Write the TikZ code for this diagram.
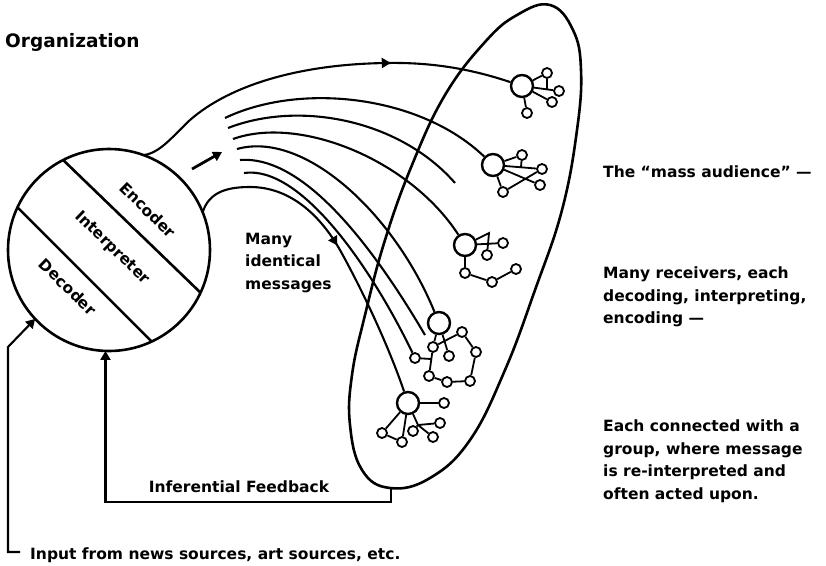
\documentclass[tikz,border=0pt]{standalone}
\usepackage{fontspec}
\setmainfont{DejaVu Sans}
\usetikzlibrary{arrows.meta, decorations.markings}

\tikzset{
  recv/.style={circle, draw, line width=2.4pt, minimum size=22pt, inner sep=0pt},
  memb/.style={circle, draw, line width=1.8pt, minimum size=10pt, inner sep=0pt},
  msg/.style={line width=2.1pt},
  tie/.style={line width=1.8pt},
  lbl/.style={font=\bfseries\fontsize{15.5}{22.5}\selectfont, align=left, inner sep=0pt},
  tip/.style={-{Triangle[length=9pt,width=10pt]}},
  midarrow/.style={postaction={decorate}, decoration={markings,
    mark=at position #1 with {\arrow{Triangle[length=9pt,width=10pt]}}}},
}

\begin{document}
\begin{tikzpicture}[x=1pt, y=-1pt]
\useasboundingbox (0,0) rectangle (826,565);

% the organization
\node[circle, draw, line width=2.6pt, minimum size=202pt, inner sep=0pt, outer sep=0pt] (org) at (109,250) {};
\draw[line width=2.6pt] (org.117) -- (org.-25);
\draw[line width=2.6pt] (org.155) -- (org.295);
\node[lbl, rotate=-44] (enc) at (148,210) {Encoder};
\node[lbl, rotate=-44] (int) at (112,248) {Interpreter};
\node[lbl, rotate=-44] (dec) at (68,287) {Decoder};
\node[anchor=west, inner sep=0pt, font=\bfseries\fontsize{18.5}{22}\selectfont] (title) at (5,42) {Organization};

% the mass audience
\draw[line width=2.6pt] plot[smooth cycle, tension=0.7] coordinates {
  (550,5) (573,30) (581,70) (577,130) (562,210) (535,290) (505,370)
  (470,440) (430,478) (390,488) (362,470) (350,425) (352,375) (365,315)
  (385,240) (412,165) (445,95) (485,42) (517,15)};
\coordinate (massbot) at (391,487);

% receivers and their groups
\node[recv] (r1) at (522,86) {};
\node[memb] (r1a) at (547,73) {};
\node[memb] (r1b) at (559,91) {};
\node[memb] (r1c) at (552,102) {};
\node[memb] (r1d) at (527,113) {};
\coordinate (r1x) at (547,89);
\draw[tie] (r1) -- (r1a) (r1) -- (r1b) (r1) -- (r1c) (r1) -- (r1d) (r1a) -- (r1x);

\node[recv] (r2) at (493,165) {};
\node[memb] (r2a) at (522,155) {};
\node[memb] (r2b) at (542,169) {};
\node[memb] (r2c) at (540,185) {};
\node[memb] (r2d) at (503,192) {};
\coordinate (r2x) at (521,167);
\draw[tie] (r2) -- (r2a) (r2) -- (r2b) (r2) -- (r2c) (r2) -- (r2d) (r2d) -- (r2b) (r2a) -- (r2x);

\node[recv] (r3) at (465,245) {};
\node[memb] (r3a) at (503,243) {};
\node[memb] (r3b) at (487,255) {};
\node[memb] (r3c) at (465,273) {};
\node[memb] (r3d) at (492,282) {};
\node[memb] (r3e) at (516,269) {};
\coordinate (r3t) at (489,233);
\draw[tie] (r3) -- (r3a) (r3) -- (r3t) -- (r3b) (r3) -- (r3c) -- (r3d) -- (r3e);

\node[recv] (r4) at (439,323) {};
\node[memb] (r4a) at (462,332) {};
\node[memb] (r4b) at (476,352) {};
\node[memb] (r4c) at (470,381) {};
\node[memb] (r4d) at (447,382) {};
\node[memb] (r4e) at (429,376) {};
\node[memb] (r4f) at (433,347) {};
\node[memb] (r4g) at (449,356) {};
\node[memb] (r4h) at (415,358) {};
\coordinate (r4x) at (431,359);
\draw[tie] (r4) -- (r4f) (r4f) -- (r4a) (r4) -- (r4g) (r4f) -- (r4e) (r4h) -- (r4x)
  (r4a) -- (r4b) -- (r4c) -- (r4d) -- (r4e);

\node[recv] (r5) at (408,403) {};
\node[memb] (r5a) at (444,403) {};
\node[memb] (r5b) at (440,423) {};
\node[memb] (r5c) at (433,437) {};
\node[memb] (r5d) at (413,431) {};
\node[memb] (r5e) at (402,442) {};
\node[memb] (r5f) at (382,433) {};
\coordinate (r5j) at (418,425);
\draw[tie] (r5) -- (r5a) (r5) -- (r5j) -- (r5b) (r5j) -- (r5c) (r5j) -- (r5d)
  (r5) -- (r5e) (r5) -- (r5f) -- (r5e);

% many identical messages
\draw[msg, midarrow=272pt] (org.70) .. controls (160,153) and (172,137) .. (190,120)
  .. controls (230,85) and (300,64) .. (387,63) .. controls (440,62) and (480,72) .. (r1);
\coordinate (m1) at (225,118);
\coordinate (m2) at (228,128);
\coordinate (m3) at (233,139);
\coordinate (m4) at (237,149);
\coordinate (m5) at (240,160);
\coordinate (m6) at (244,173);
\coordinate (m2end) at (455,183);
\coordinate (m5end) at (425,335);
\draw[msg] (m1) .. controls (300,82) and (420,95) .. (r2);
\draw[msg] (m2) .. controls (300,100) and (400,120) .. (m2end);
\draw[msg] (m3) .. controls (300,115) and (410,160) .. (r3);
\draw[msg] (m4) .. controls (305,130) and (395,215) .. (r4);
\draw[msg] (m5) .. controls (305,155) and (375,250) .. (m5end);
\draw[msg] (m6) .. controls (300,165) and (370,265) .. (r4h);
\draw[msg, midarrow=168pt] (org.22) .. controls (209,193) and (225,187) .. (250,187)
  .. controls (290,187) and (320,215) .. (340,250) .. controls (365,295) and (390,350) .. (r5);
\coordinate (flowA) at (192,169);
\coordinate (flowB) at (222,152);
\draw[line width=2.8pt, tip] (flowA) -- (flowB);
\node[lbl, anchor=west] (many) at (245,263) {Many\\identical\\messages};

% feedback and input
\draw[msg, tip] (massbot) -- (391,502) -| (org.268);
\node[lbl] (fb) at (239,487) {Inferential Feedback};
\coordinate (inpA) at (20,552);
\coordinate (inpB) at (8,347);
\draw[msg, tip] (inpA) -| (inpB) -- (org.223);
\node[lbl, anchor=west] (inp) at (30,555) {Input from news sources, art sources, etc.};

% notes at the right
\node[lbl, anchor=west] (note1) at (603,172) {The “mass audience” —};
\node[lbl, anchor=west] (note2) at (603,297) {Many receivers, each\\decoding, interpreting,\\encoding —};
\node[lbl, anchor=west] (note3) at (603,461) {Each connected with a\\group, where message\\is re-interpreted and\\often acted upon.};
\end{tikzpicture}
\end{document}
